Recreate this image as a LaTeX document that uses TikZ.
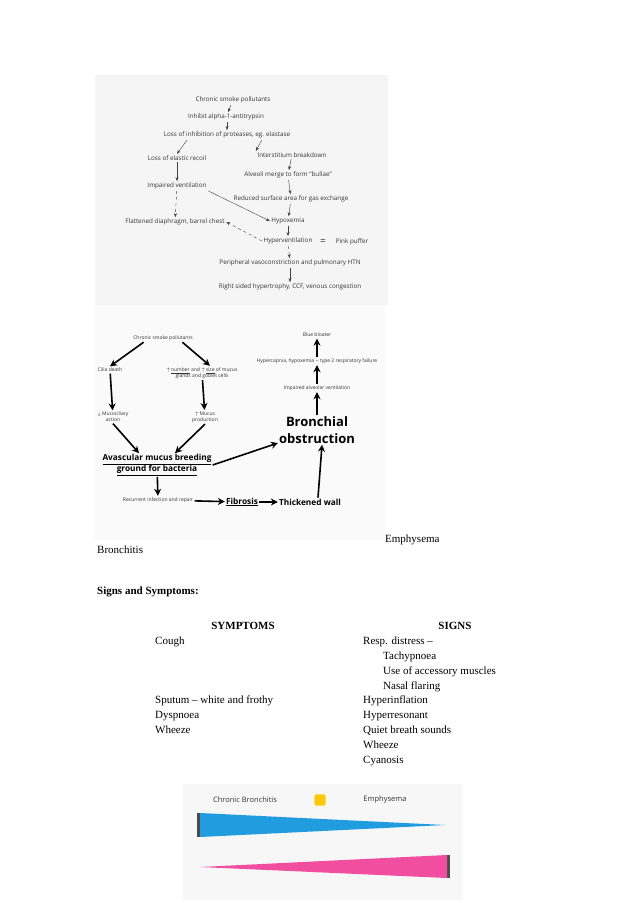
\documentclass[tikz,border=0pt]{standalone}
\usepackage{fontspec}
\setmainfont{Liberation Serif}
\newfontfamily\diag{Open Sans}
\usetikzlibrary{arrows.meta,shapes.geometric}
\begin{document}
\begin{tikzpicture}[x=1pt,y=-1pt,
  t/.style={font=\diag\fontsize{6.3}{7}\selectfont,inner sep=1.5pt,text=black!80},
  s/.style={font=\diag\fontsize{5}{6}\selectfont,inner sep=1.5pt,align=center,text=black!80},
  ar/.style={-{Stealth[length=4pt]},black!75,thin},
  da/.style={ar,dashed},
  big/.style={-{Stealth[length=7pt,width=7pt]},line width=1.6pt},
  txt/.style={font=\fontsize{11}{13}\selectfont,anchor=base west,inner sep=0}]
\useasboundingbox (0,0) rectangle (638,903);
\fill[white] (0,0) rectangle (638,903);
% top diagram
\fill[black!4] (95,75) rectangle (388,305);
\node[t] (a) at (233,100) {Chronic smoke pollutants};
\node[t] (b) at (226,117) {Inhibit alpha-1-antitrypsin};
\node[t] (c) at (227,135) {Loss of inhibition of proteases, eg. elastase};
\node[t] (d) at (177,158) {Loss of elastic recoil};
\node[t] (e) at (292,155) {Interstitium breakdown};
\node[t] (f) at (288,175) {Alveoli merge to form “bullae”};
\node[t] (g) at (177,186) {Impaired ventilation};
\node[t] (h) at (291,199) {Reduced surface area for gas exchange};
\node[t] (i) at (175,222) {Flattened diaphragm, barrel chest};
\node[t] (j) at (288,221) {Hypoxemia};
\node[t] (k) at (288,241) {Hyperventilation};
\node[t] (eq) at (323,242) {\fontsize{10}{10}\selectfont =};
\node[t] (pp) at (352,242) {Pink puffer};
\node[t] (l) at (290,263) {Peripheral vasoconstriction and pulmonary HTN};
\node[t] (m) at (290,287) {Right sided hypertrophy, CCF, venous congestion};
\draw[ar] (a) -- (b);
\draw[ar] (b.south -| c) -- (c);
\draw[ar] (c.south west) ++(25,0) coordinate (c1) -- (d.north);
\draw[ar] (c.south east) ++(-30,0) coordinate (c2) -- (e.north west);
\draw[ar] (d) -- (g);
\draw[ar] (e) -- (f);
\draw[ar] (f) -- (h);
\draw[ar] (h) -- (j);
\draw[ar] (g.south east) -- (j.west);
\draw[da] (g) -- (i);
\draw[ar] (j) -- (k);
\draw[da] (k.west) -- (i.east);
\draw[da] (k) -- (l);
\draw[ar] (l) -- (m);
% bottom diagram
\fill[black!2] (95,305) rectangle (385,540);
\node[s] (p) at (163,338) {Chronic smoke pollutants};
\node[s] (q) at (110,370) {Cilia death};
\node[s] (r) at (202,373) {$\uparrow$\,\underline{number} and $\uparrow$\,\underline{size} of mucus\\glands and goblet cells};
\node[s] (u) at (113,417) {$\downarrow$\,Mucociliary\\action};
\node[s] (v) at (205,417) {$\uparrow$\,Mucus\\production};
\node[font=\diag\bfseries\fontsize{8.3}{11}\selectfont,align=center,inner sep=1pt] (w) at (157,465) {\underline{Avascular mucus breeding}\\\underline{ground for bacteria}};
\node[s] (x) at (158,500) {Recurrent infection and repair};
\node[font=\diag\bfseries\fontsize{8.3}{10}\selectfont,inner sep=1pt] (y) at (242,502) {\underline{Fibrosis}};
\node[font=\diag\bfseries\fontsize{8.3}{10}\selectfont,inner sep=1pt] (z) at (310,502) {Thickened wall};
\node[font=\diag\bfseries\fontsize{13}{17}\selectfont,align=center,inner sep=1pt] (bo) at (317,430) {Bronchial\\obstruction};
\node[s] (ia) at (317,388) {Impaired alveolar ventilation};
\node[s] (hc) at (317,361) {Hypercapnia, hypoxemia -- type 2 respiratory failure};
\node[s] (bb) at (317,335) {Blue bloater};
\draw[big] (p.south west) ++(12,0) -- (q.north);
\draw[big] (p.south east) ++(-12,0) -- ([xshift=8pt]r.north);
\draw[big] (q) -- (u);
\draw[big] (r) -- (v);
\draw[big] (u.south) -- ([xshift=-18pt]w.north);
\draw[big] (v.south) -- ([xshift=18pt]w.north);
\draw[big] (w) -- (x);
\draw[big] (x) -- (y);
\draw[big] (y) -- (z);
\draw[big] (w.east) -- (bo.west |- 0,443);
\draw[big] ([xshift=8pt]z.north) -- ([xshift=5pt]bo.south);
\draw[big] (bo) -- (ia);
\draw[big] (ia) -- (hc);
\draw[big] (hc) -- (bb);
% text
\node[txt] (emp) at (385,542) {Emphysema};
\node[txt] (bro) at (97,553) {Bronchitis};
\node[txt,font=\bfseries\fontsize{11}{13}\selectfont] (ss) at (97,594) {Signs and Symptoms:};
\node[txt,anchor=base,font=\bfseries\fontsize{11}{13}\selectfont] (sy) at (243,629) {SYMPTOMS};
\node[txt,anchor=base,font=\bfseries\fontsize{11}{13}\selectfont] (si) at (455,629) {SIGNS};
\node[txt] (l1) at (155,644) {Cough};
\node[txt] (l2) at (155,703) {Sputum -- white and frothy};
\node[txt] (l3) at (155,718) {Dyspnoea};
\node[txt] (l4) at (155,733) {Wheeze};
\node[txt] (r1) at (363,644) {Resp. distress --};
\node[txt] (r2) at (383,659) {Tachypnoea};
\node[txt] (r3) at (383,674) {Use of accessory muscles};
\node[txt] (r4) at (383,689) {Nasal flaring};
\node[txt] (r5) at (363,703) {Hyperinflation};
\node[txt] (r6) at (363,718) {Hyperresonant};
\node[txt] (r7) at (363,733) {Quiet breath sounds};
\node[txt] (r8) at (363,748) {Wheeze};
\node[txt] (r9) at (363,763) {Cyanosis};
% bottom image
\fill[black!3] (183,784) rectangle (462,900);
\node[font=\diag\fontsize{7.5}{9}\selectfont,text=black!80] (cb) at (245,800) {Chronic Bronchitis};
\node[font=\diag\fontsize{7.5}{9}\selectfont,text=black!80] (em) at (385,800) {Emphysema};
\node[star,star points=4,star point ratio=0.7,rounded corners=1.5pt,fill=yellow!60!orange,minimum size=11pt,inner sep=0] (st) at (320,800) {};
\fill[black!70] (197,813) rectangle (200,837);
\fill[cyan!80!blue!90] (200,813) -- (445,825) -- (200,837) -- cycle;
\fill[black!70] (447,855) rectangle (450,878);
\fill[magenta!60!pink] (200,867) -- (447,855) -- (447,878) -- cycle;
\end{tikzpicture}
\end{document}
